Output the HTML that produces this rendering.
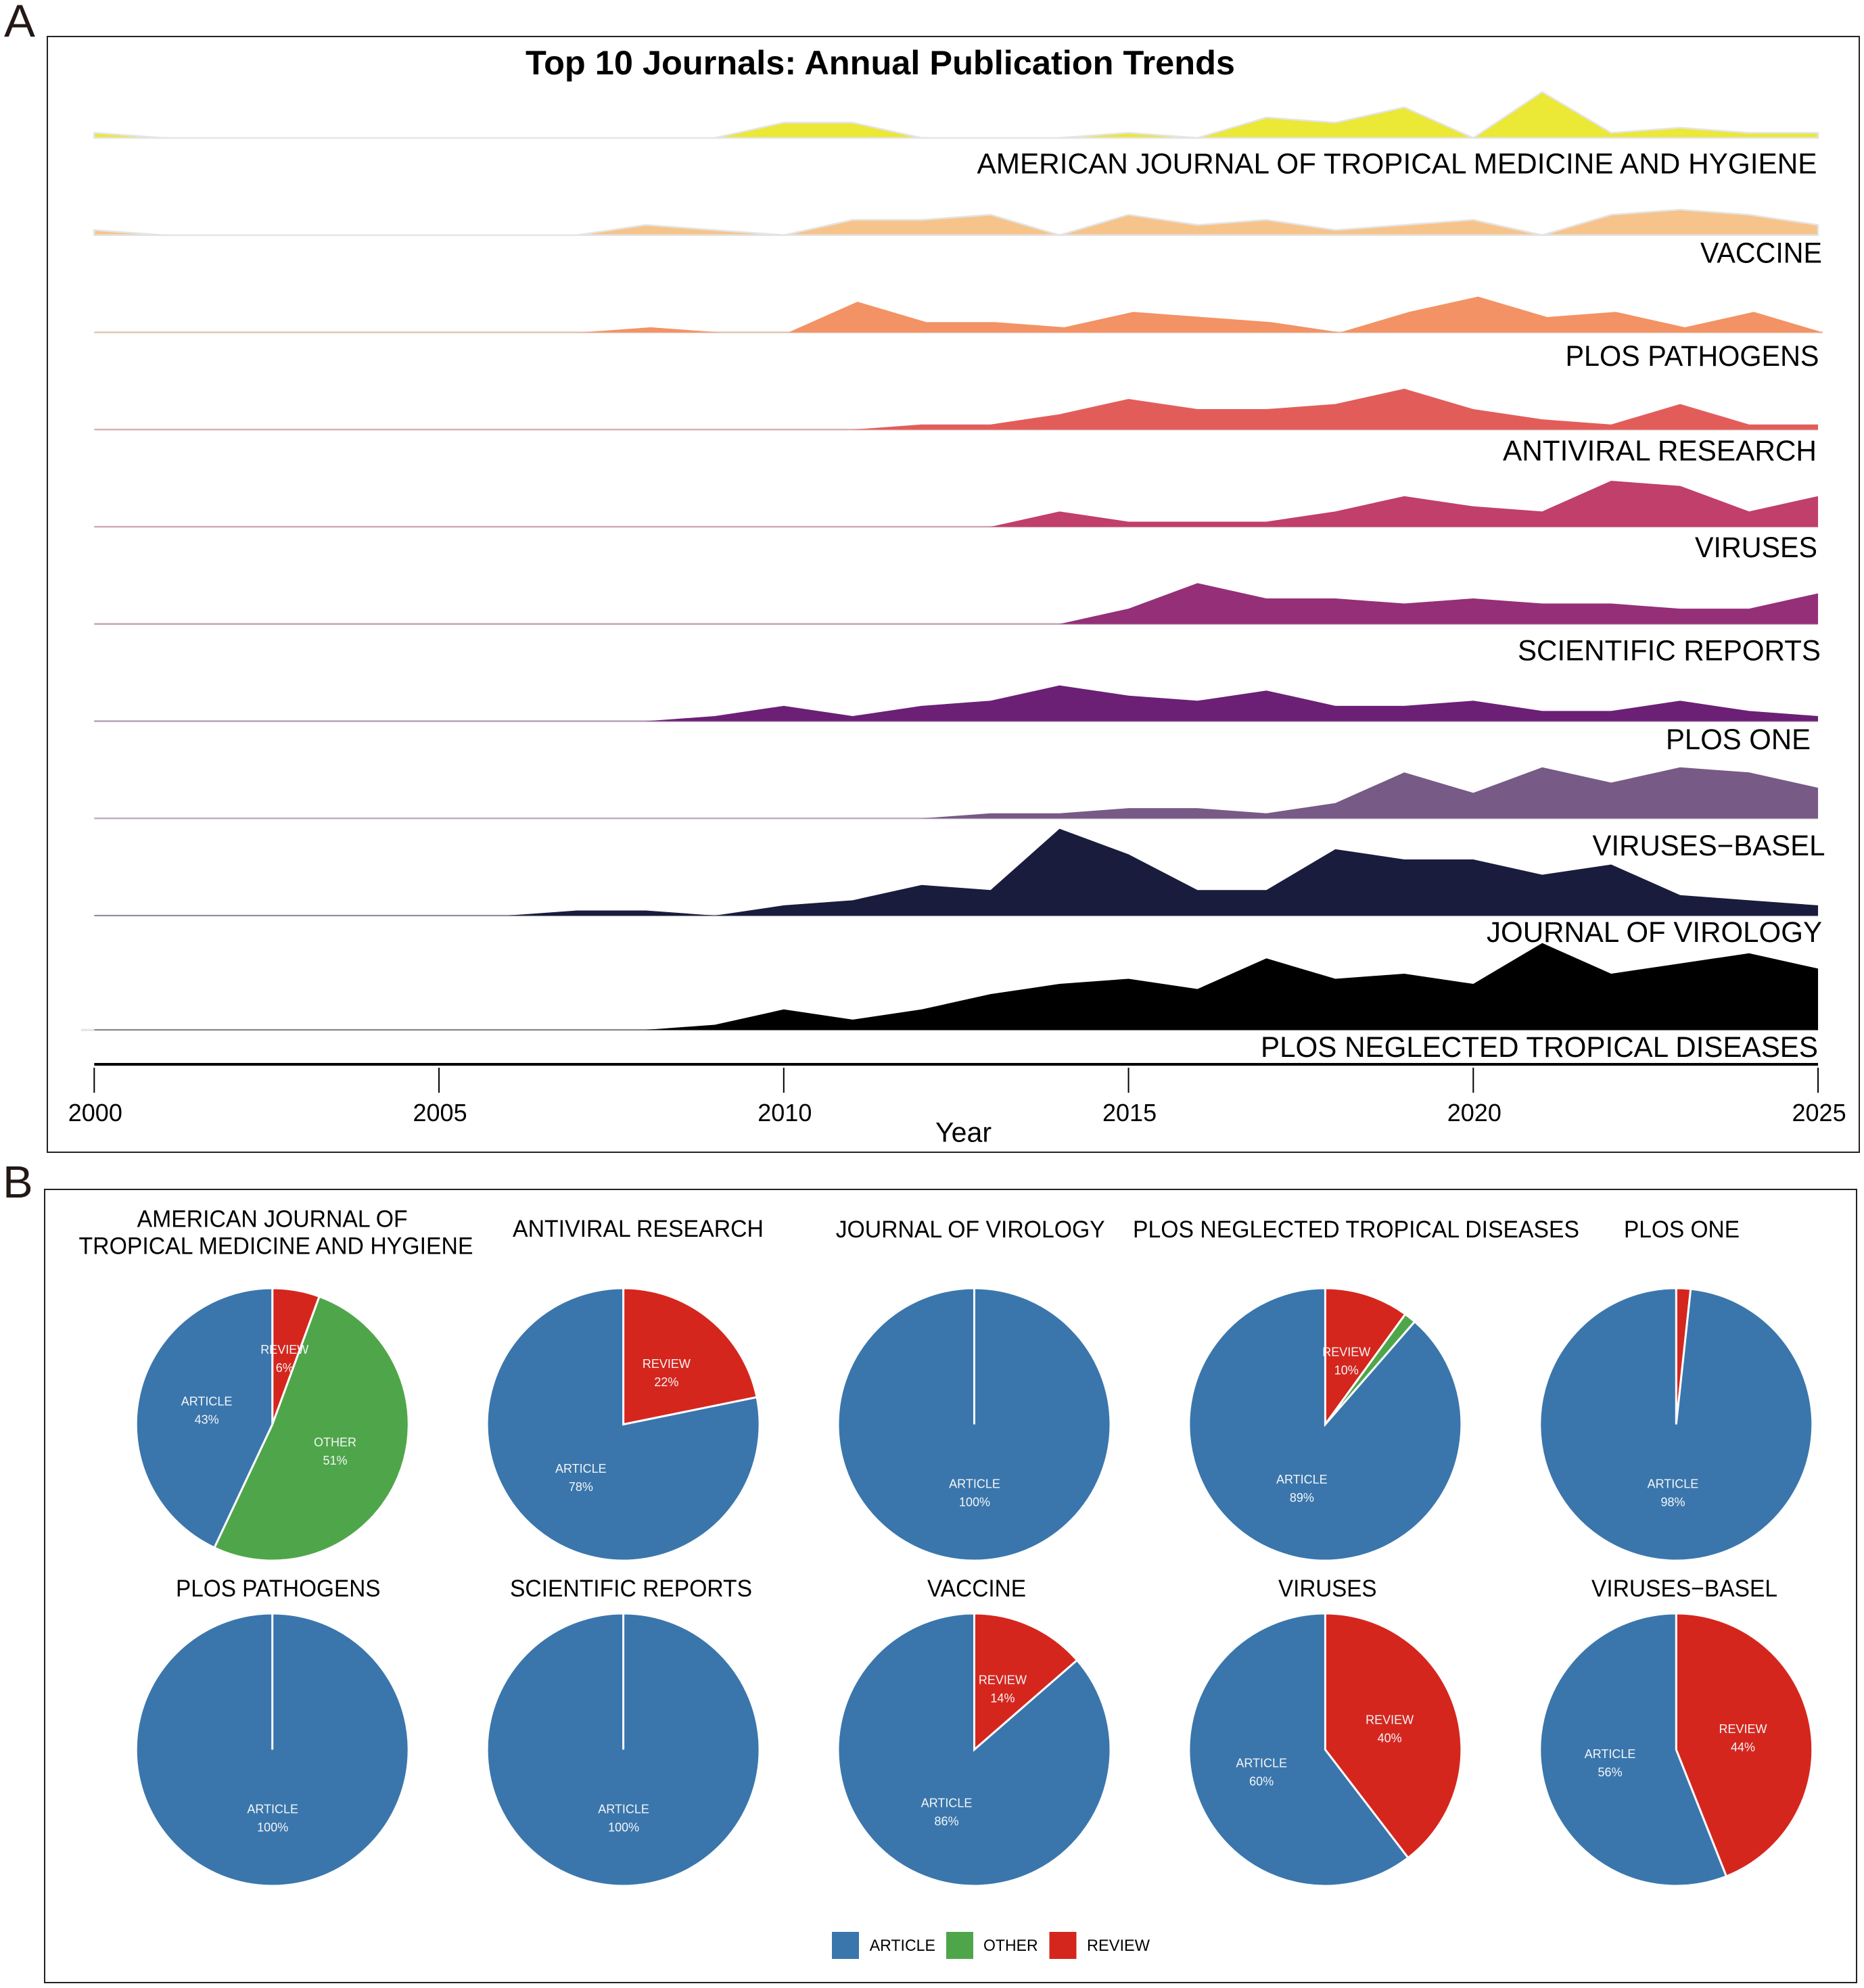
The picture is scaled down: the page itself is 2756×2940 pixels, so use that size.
<!DOCTYPE html>
<html lang="en">
<head>
<meta charset="utf-8">
<title>Top 10 Journals: Annual Publication Trends</title>
<style>
html,body{margin:0;padding:0;background:#fff;}
svg{display:block;}
text{font-family:"Liberation Sans",Arial,sans-serif;fill:#000;}
</style>
</head>
<body>
<svg id="figure" xmlns="http://www.w3.org/2000/svg" width="2756" height="2940" viewBox="0 0 2756 2940">
  <rect x="0" y="0" width="2756" height="2940" fill="#ffffff"/>

  <text x="6" y="54" font-size="68" textLength="46" lengthAdjust="spacingAndGlyphs" style="fill:#231815">A</text>
  <text x="4" y="1771" font-size="67" style="fill:#231815">B</text>

  <rect x="70" y="54" width="2679" height="1650" fill="none" stroke="#222" stroke-width="2"/>
  <rect x="66" y="1759" width="2679" height="1173" fill="none" stroke="#222" stroke-width="2"/>

  <text x="777" y="110" font-size="50" font-weight="700" textLength="1049" lengthAdjust="spacingAndGlyphs">Top 10 Journals: Annual Publication Trends</text>

  <g id="ridges"></g>

  <g>
    <text x="1444.5" y="256.5" font-size="42.5" textLength="1242" lengthAdjust="spacingAndGlyphs">AMERICAN JOURNAL OF TROPICAL MEDICINE AND HYGIENE</text>
    <text x="2514" y="388.5" font-size="42.5" textLength="180" lengthAdjust="spacingAndGlyphs">VACCINE</text>
    <text x="2314.5" y="541" font-size="42.5" textLength="375" lengthAdjust="spacingAndGlyphs">PLOS PATHOGENS</text>
    <text x="2222" y="681" font-size="42.5" textLength="464" lengthAdjust="spacingAndGlyphs">ANTIVIRAL RESEARCH</text>
    <text x="2506" y="824" font-size="42.5" textLength="181" lengthAdjust="spacingAndGlyphs">VIRUSES</text>
    <text x="2244" y="976.5" font-size="42.5" textLength="448" lengthAdjust="spacingAndGlyphs">SCIENTIFIC REPORTS</text>
    <text x="2463" y="1108" font-size="42.5" textLength="214" lengthAdjust="spacingAndGlyphs">PLOS ONE</text>
    <text x="2354.5" y="1265" font-size="42.5" textLength="344" lengthAdjust="spacingAndGlyphs">VIRUSES−BASEL</text>
    <text x="2198" y="1393" font-size="42.5" textLength="496" lengthAdjust="spacingAndGlyphs">JOURNAL OF VIROLOGY</text>
    <text x="1864" y="1563" font-size="42.5" textLength="824" lengthAdjust="spacingAndGlyphs">PLOS NEGLECTED TROPICAL DISEASES</text>
  </g>

  <rect x="120" y="1521.5" width="19" height="3.5" fill="#e6e6e6"/>
  <g id="x-axis"></g>
  <text x="1383" y="1688.5" font-size="41" textLength="83" lengthAdjust="spacingAndGlyphs">Year</text>

  <g>
    <text x="202.6" y="1814.3" font-size="35" textLength="400" lengthAdjust="spacingAndGlyphs">AMERICAN JOURNAL OF</text>
    <text x="116.5" y="1854.7" font-size="35" textLength="583" lengthAdjust="spacingAndGlyphs">TROPICAL MEDICINE AND HYGIENE</text>
    <text x="758" y="1829" font-size="35" textLength="371" lengthAdjust="spacingAndGlyphs">ANTIVIRAL RESEARCH</text>
    <text x="1235.7" y="1830" font-size="35" textLength="398" lengthAdjust="spacingAndGlyphs">JOURNAL OF VIROLOGY</text>
    <text x="1675" y="1830" font-size="35" textLength="660" lengthAdjust="spacingAndGlyphs">PLOS NEGLECTED TROPICAL DISEASES</text>
    <text x="2401" y="1830" font-size="35" textLength="171" lengthAdjust="spacingAndGlyphs">PLOS ONE</text>
    <text x="260" y="2361" font-size="35" textLength="302.5" lengthAdjust="spacingAndGlyphs">PLOS PATHOGENS</text>
    <text x="754" y="2361" font-size="35" textLength="358" lengthAdjust="spacingAndGlyphs">SCIENTIFIC REPORTS</text>
    <text x="1371" y="2361" font-size="35" textLength="146" lengthAdjust="spacingAndGlyphs">VACCINE</text>
    <text x="1890" y="2361" font-size="35" textLength="145.5" lengthAdjust="spacingAndGlyphs">VIRUSES</text>
    <text x="2353" y="2361" font-size="35" textLength="275" lengthAdjust="spacingAndGlyphs">VIRUSES−BASEL</text>
  </g>

  <g id="pies"></g>

  <g>
    <rect x="1230" y="2857" width="40" height="40" fill="#3a76ac"/>
    <text x="1285.7" y="2885" font-size="24" textLength="97.3" lengthAdjust="spacingAndGlyphs">ARTICLE</text>
    <rect x="1399" y="2857" width="40" height="40" fill="#4fa64a"/>
    <text x="1454" y="2885" font-size="24" textLength="80.6" lengthAdjust="spacingAndGlyphs">OTHER</text>
    <rect x="1551.5" y="2857" width="40" height="40" fill="#d5261e"/>
    <text x="1607" y="2885" font-size="24" textLength="93" lengthAdjust="spacingAndGlyphs">REVIEW</text>
  </g>
</svg>

<script>
// ---------- Ridgeline data (publications per year, 2000..2025) ----------
const years = [2000,2001,2002,2003,2004,2005,2006,2007,2008,2009,2010,2011,2012,2013,2014,2015,2016,2017,2018,2019,2020,2021,2022,2023,2024,2025];
const tickYears = [2000,2005,2010,2015,2020,2025];
const americanJournalCounts = [1,0,0,0,0,0,0,0,0,0,3,3,0,0,0,1,0,4,3,6,0,9,1,2,1,1];
const vaccineCounts         = [1,0,0,0,0,0,0,0,2,1,0,3,3,4,0,4,2,3,1,2,3,0,4,5,4,2];
const plosPathogensCounts   = [0,0,0,0,0,0,0,0,1,0,0,6,2,2,1,4,3,2,0,4,7,3,4,1,4,0];
const antiviralCounts       = [0,0,0,0,0,0,0,0,0,0,0,0,1,1,3,6,4,4,5,8,4,2,1,5,1,1];
const virusesCounts         = [0,0,0,0,0,0,0,0,0,0,0,0,0,0,3,1,1,1,3,6,4,3,9,8,3,6];
const scientificCounts      = [0,0,0,0,0,0,0,0,0,0,0,0,0,0,0,3,8,5,5,4,5,4,4,3,3,6];
const plosOneCounts         = [0,0,0,0,0,0,0,0,0,1,3,1,3,4,7,5,4,6,3,3,4,2,2,4,2,1];
const virusesBaselCounts    = [0,0,0,0,0,0,0,0,0,0,0,0,0,1,1,2,2,1,3,9,5,10,7,10,9,6];
const virologyCounts        = [0,0,0,0,0,0,0,1,1,0,2,3,6,5,17,12,5,5,13,11,11,8,10,4,3,2];
const neglectedCounts       = [0,0,0,0,0,0,0,0,0,1,4,2,4,7,9,10,8,14,10,11,9,17,11,13,15,12];
const ridgeSeries = [americanJournalCounts,vaccineCounts,plosPathogensCounts,antiviralCounts,virusesCounts,scientificCounts,plosOneCounts,virusesBaselCounts,virologyCounts,neglectedCounts];

// ---------- Pie data (percent of each journal's publications) ----------
const pieReview  = [5.6,21.8,0,10,1.7,0,0,13.6,39.6,44];
const pieOther   = [51.4,0,0,1.4,0,0,0,0,0,0];
const pieArticle = [43,78.2,100,88.6,98.3,100,100,86.4,60.4,56];

// ---------- Styling and axis functions ----------
const NS = 'http://www.w3.org/2000/svg';
const ridgeColors = ['#ebe836','#f6c48a','#f39264','#e25d5a','#c03f6b','#952f78','#6b2076','#775a86','#1a1c3d','#000000'];
const typeColors = {review:'#d5261e',other:'#4fa64a',article:'#3a76ac'};
const xScale = function(year){ return 139.3 + (year - 2000) * 101.95; };
const rowShift = function(i){ return i === 2 ? 7 : 0; };
const unitHeight = 7.55;
const rowBase = function(i){ return i < 9 ? 204 + 143.75 * i : 1523; };
const yScale = function(i, count){ return rowBase(i) - count * unitHeight; };

function make(tag, attrs){
  const el = document.createElementNS(NS, tag);
  Object.keys(attrs).forEach(function(k){ el.setAttribute(k, attrs[k]); });
  return el;
}

// ---------- Ridges ----------
const ridgesGroup = document.getElementById('ridges');
ridgeSeries.forEach(function(counts, i){
  const startX = xScale(years[0]);
  const endX = xScale(years[years.length - 1]) + rowShift(i);
  let d = 'M' + startX + ' ' + rowBase(i);
  counts.forEach(function(c, j){
    const px = j === 0 ? startX : xScale(years[j]) + rowShift(i);
    d += ' L' + px.toFixed(2) + ' ' + yScale(i, c).toFixed(2);
  });
  d += ' L' + endX + ' ' + rowBase(i) + ' Z';
  const light = i < 2;
  if(!light){
    const under = make('line', {x1:startX, x2:endX, y1:rowBase(i), y2:rowBase(i), stroke:'#dcdcdc', 'stroke-width':2.5});
    
    
    ridgesGroup.appendChild(under);
  }
  const area = make('path', {d:d, fill:ridgeColors[i], stroke: light ? '#e4e4e4' : 'none', 'stroke-width': light ? 2.5 : 0, 'stroke-linejoin':'round'});
  
  
  ridgesGroup.appendChild(area);
  if(!light){
    const base = make('line', {x1:startX, x2:endX, y1:rowBase(i), y2:rowBase(i), stroke:ridgeColors[i], 'stroke-opacity':0.4, 'stroke-width':2});
    
    
    ridgesGroup.appendChild(base);
  }
});

// ---------- X axis ----------
const axisGroup = document.getElementById('x-axis');
const axisLine = make('line', {x1:xScale(2000), x2:xScale(2025), y1:1574, y2:1574, stroke:'#000', 'stroke-width':4});


axisGroup.appendChild(axisLine);
tickYears.forEach(function(year){
  const tick = make('line', {x1:xScale(year), x2:xScale(year), y1:1579, y2:1616, stroke:'#000', 'stroke-width':2});
  
  
  axisGroup.appendChild(tick);
  const label = make('text', {x:xScale(year) + 1.5, y:1658, 'font-size':36, 'text-anchor':'middle'});
  
  
  label.textContent = String(year);
  axisGroup.appendChild(label);
});

// ---------- Pies ----------
const piesGroup = document.getElementById('pies');
const pieRadius = 201.5;
const labelRadius = 100;
const labelMinimum = 5;
const pieCenterX = function(i){ return 402.7 + 518.9 * (i % 5); };
const pieCenterY = function(i){ return i < 5 ? 2106.5 : 2587.5; };
const angleOf = function(pct){ return pct / 100 * 2 * Math.PI; };
const pointAt = function(cx, cy, r, a){ return [cx + r * Math.sin(a), cy - r * Math.cos(a)]; };

pieArticle.forEach(function(_, i){
  const cx = pieCenterX(i), cy = pieCenterY(i);
  const slices = [
    {type:'review', label:'REVIEW', value:pieReview[i]},
    {type:'other', label:'OTHER', value:pieOther[i]},
    {type:'article', label:'ARTICLE', value:pieArticle[i]}
  ];
  let start = 0;
  const labelItems = [];
  slices.forEach(function(s){
    if(s.value <= 0){ return; }
    const end = start + s.value;
    const a0 = angleOf(start), a1 = angleOf(end);
    const p0 = pointAt(cx, cy, pieRadius, a0);
    const p1 = pointAt(cx, cy, pieRadius, a1);
    let d;
    if(s.value >= 99.99){
      const mid = pointAt(cx, cy, pieRadius, a0 + Math.PI);
      d = 'M' + cx + ' ' + cy + ' L' + p0[0] + ' ' + p0[1] +
          ' A' + pieRadius + ' ' + pieRadius + ' 0 0 1 ' + mid[0] + ' ' + mid[1] +
          ' A' + pieRadius + ' ' + pieRadius + ' 0 0 1 ' + p0[0] + ' ' + p0[1] + ' Z';
    } else {
      d = 'M' + cx + ' ' + cy + ' L' + p0[0].toFixed(2) + ' ' + p0[1].toFixed(2) +
          ' A' + pieRadius + ' ' + pieRadius + ' 0 ' + (s.value > 50 ? 1 : 0) + ' 1 ' + p1[0].toFixed(2) + ' ' + p1[1].toFixed(2) + ' Z';
    }
    const slice = make('path', {d:d, fill:typeColors[s.type], stroke:'#fff', 'stroke-width':3, 'stroke-miterlimit':10});
    
    
    piesGroup.appendChild(slice);
    if(s.value >= labelMinimum){
      const c = pointAt(cx, cy, labelRadius, angleOf(start + s.value / 2));
      labelItems.push({x:c[0], y:c[1], name:s.label, pct:Math.round(s.value) + '%'});
    }
    start = end;
  });
  labelItems.forEach(function(item){
    const nameText = make('text', {x:item.x + 0.5, y:item.y - 6, 'font-size':18, 'text-anchor':'middle', style:'fill:#f4f6f8'});
    
    
    nameText.textContent = item.name;
    piesGroup.appendChild(nameText);
    const pctText = make('text', {x:item.x + 0.5, y:item.y + 21, 'font-size':18, 'text-anchor':'middle', style:'fill:#f4f6f8'});
    
    
    pctText.textContent = item.pct;
    piesGroup.appendChild(pctText);
  });
});
</script>
</body>
</html>
